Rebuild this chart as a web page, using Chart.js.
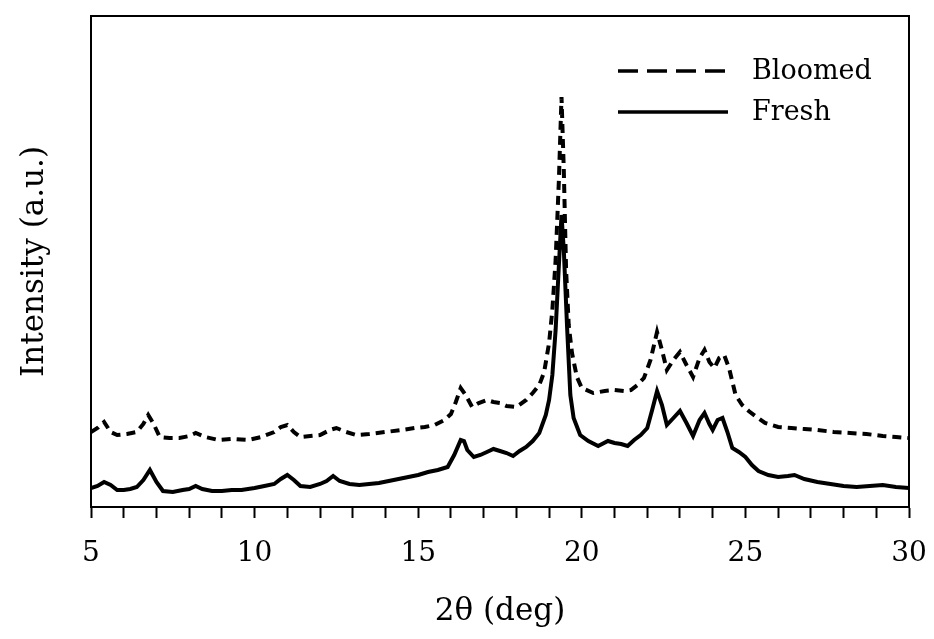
<!DOCTYPE html>
<html>
<head>
<meta charset="utf-8">
<script src="https://cdn.jsdelivr.net/npm/chart.js@4/dist/chart.umd.min.js"></script>
<style>
  html, body { margin: 0; padding: 0; background: #fff; }
  #wrap { width: 934px; height: 639px; }
</style>
</head>
<body>
<div id="wrap"><canvas id="xrd"></canvas></div>
<script>
// 2theta positions (deg) and intensities (a.u.)
const freshX = [5.0, 5.2, 5.4, 5.6, 5.8, 6.0, 6.2, 6.4, 6.6, 6.8, 7.0, 7.2, 7.5, 7.8, 8.0, 8.2, 8.4, 8.7, 9.0, 9.3, 9.6,
  10.0, 10.3, 10.6, 10.8, 11.0, 11.2, 11.4, 11.7, 12.0, 12.2, 12.4, 12.6, 12.9, 13.2, 13.5, 13.8, 14.1, 14.4, 14.7,
  15.0, 15.3, 15.6, 15.9, 16.1, 16.3, 16.4, 16.5, 16.7, 16.9, 17.1, 17.3, 17.5, 17.7, 17.9, 18.1, 18.3, 18.5, 18.7,
  18.9, 19.0, 19.1, 19.2, 19.3, 19.38, 19.45, 19.55, 19.65, 19.75, 19.95, 20.2, 20.5, 20.8, 21.0, 21.2, 21.4, 21.6,
  21.8, 22.0, 22.15, 22.3, 22.45, 22.6, 22.8, 23.0, 23.2, 23.4, 23.6, 23.75, 23.9, 24.0, 24.15, 24.3, 24.45, 24.6,
  24.8, 25.0, 25.2, 25.4, 25.7, 26.0, 26.3, 26.5, 26.8, 27.2, 27.6, 28.0, 28.4, 28.8, 29.2, 29.6, 30.0];
const freshY = [19, 21, 25, 22, 17, 17, 18, 20, 27, 37, 25, 16, 15, 17, 18, 21, 18, 16, 16, 17, 17,
  19, 21, 23, 28, 32, 27, 21, 20, 23, 26, 31, 26, 23, 22, 23, 24, 26, 28, 30,
  32, 35, 37, 40, 52, 67, 66, 57, 50, 52, 55, 58, 56, 54, 51, 56, 60, 66, 74,
  92, 107, 132, 177, 242, 292, 257, 180, 112, 89, 72, 66, 61, 66, 64, 63, 61, 67,
  72, 79, 97, 116, 102, 82, 89, 96, 84, 71, 87, 94, 83, 77, 87, 89, 75, 59,
  55, 50, 42, 36, 32, 30, 31, 32, 28, 25, 23, 21, 20, 21, 22, 20, 19];

const bloomedX = [5.0, 5.2, 5.4, 5.6, 5.8, 6.1, 6.4, 6.6, 6.75, 6.9, 7.1, 7.4, 7.7, 8.0, 8.2, 8.5, 8.9, 9.3, 9.8,
  10.2, 10.6, 10.8, 11.0, 11.2, 11.4, 11.7, 12.0, 12.3, 12.5, 12.8, 13.1, 13.5, 14.0, 14.5, 14.9, 15.2, 15.5, 15.8,
  16.0, 16.15, 16.3, 16.45, 16.65, 16.85, 17.1, 17.3, 17.5, 17.7, 18.0, 18.3, 18.5, 18.7, 18.85, 19.0, 19.1, 19.2,
  19.3, 19.38, 19.45, 19.52, 19.6, 19.7, 19.85, 20.0, 20.35, 20.7, 21.0, 21.3, 21.5, 21.7, 21.9, 22.1, 22.3, 22.45,
  22.6, 22.8, 23.0, 23.2, 23.4, 23.6, 23.75, 23.9, 24.05, 24.2, 24.35, 24.5, 24.7, 24.9, 25.1, 25.3, 25.6, 26.0,
  26.4, 26.8, 27.2, 27.7, 28.2, 28.7, 29.2, 29.6, 30.0];
const bloomedY = [75, 79, 85, 75, 72, 73, 75, 83, 92, 84, 70, 69, 69, 71, 74, 70, 67, 68, 67,
  70, 75, 80, 82, 75, 70, 71, 72, 77, 79, 75, 72, 73, 75, 77, 79, 80, 82, 87,
  93, 105, 119, 112, 100, 104, 107, 105, 104, 101, 100, 107, 114, 122, 135, 164, 197, 247,
  327, 410, 337, 237, 182, 154, 130, 119, 114, 116, 117, 116, 117, 122, 129, 147, 175, 157,
  137, 147, 155, 142, 130, 149, 157, 145, 139, 149, 152, 139, 112, 102, 96, 91, 84, 80,
  79, 78, 77, 75, 74, 73, 71, 70, 69];

const xTickLabels = ['5', '10', '15', '20', '25', '30'];

const FONT = "'DejaVu Serif', 'Liberation Serif', serif";

function pts(xs, ys) {
  return xs.map((x, i) => ({ x: x, y: ys[i] }));
}

// frame round the plot area + legend drawn inside it
const framePlugin = {
  id: 'frame',
  afterDatasetsDraw(chart) {
    const { ctx, chartArea: a } = chart;
    ctx.save();
    ctx.strokeStyle = '#000';
    ctx.lineWidth = 2;
    ctx.strokeRect(a.left, a.top, a.right - a.left, a.bottom - a.top);

    // legend (the key uses longer dashes than the curve)
    const x0 = a.left + 527, x1 = a.left + 637, tx = a.left + 661;
    const rows = [
      { ds: chart.data.datasets[0], y: a.top + 55, dash: [20, 9] },
      { ds: chart.data.datasets[1], y: a.top + 96, dash: [] }
    ];
    rows.forEach(r => {
      ctx.lineWidth = 3.5;
      ctx.setLineDash(r.dash);
      ctx.beginPath();
      ctx.moveTo(x0, r.y);
      ctx.lineTo(x1, r.y);
      ctx.stroke();
      ctx.setLineDash([]);
      ctx.fillStyle = '#000';
      ctx.font = '27px ' + FONT;
      ctx.textBaseline = 'middle';
      ctx.fillText(r.ds.label, tx, r.y + 1);
    });
    ctx.restore();
  }
};

new Chart(document.getElementById('xrd').getContext('2d'), {
  type: 'line',
  data: {
    datasets: [{
      label: 'Bloomed',
      data: pts(bloomedX, bloomedY),
      borderColor: '#000',
      borderWidth: 4,
      borderDash: [9, 6],
      pointRadius: 0,
      tension: 0
    }, {
      label: 'Fresh',
      data: pts(freshX, freshY),
      borderColor: '#000',
      borderWidth: 4,
      pointRadius: 0,
      tension: 0
    }]
  },
  options: {
    responsive: true,
    maintainAspectRatio: false,
    animation: false,
    layout: { padding: { top: 16, right: 25, bottom: 0, left: 0 } },
    plugins: {
      legend: { display: false },
      tooltip: { enabled: false }
    },
    scales: {
      x: {
        type: 'linear',
        min: 5,
        max: 30,
        afterFit: s => { s.height = 132; s.paddingLeft = 0; s.paddingRight = 0; },
        border: { display: true, color: '#000', width: 2 },
        grid: { drawOnChartArea: false, drawTicks: true, tickLength: 11, tickColor: '#000', tickWidth: 2 },
        ticks: {
          stepSize: 1,
          autoSkip: false,
          maxRotation: 0,
          color: '#000',
          padding: 19,
          font: { family: FONT, size: 28 },
          callback: v => (v % 5 === 0 ? xTickLabels[(v - 5) / 5] : '')
        },
        title: {
          display: true,
          text: '2θ (deg)',
          color: '#000',
          font: { family: FONT, size: 31 },
          padding: { top: 0, bottom: 8 }
        }
      },
      y: {
        min: 0,
        max: 491,
        afterFit: s => { s.width = 91; },
        border: { display: true, color: '#000', width: 2 },
        grid: { display: false },
        ticks: { display: false },
        title: {
          display: true,
          text: 'Intensity (a.u.)',
          color: '#000',
          font: { family: FONT, size: 31 },
          padding: { top: 16, bottom: 0 }
        }
      }
    }
  },
  plugins: [framePlugin]
});
</script>
</body>
</html>
